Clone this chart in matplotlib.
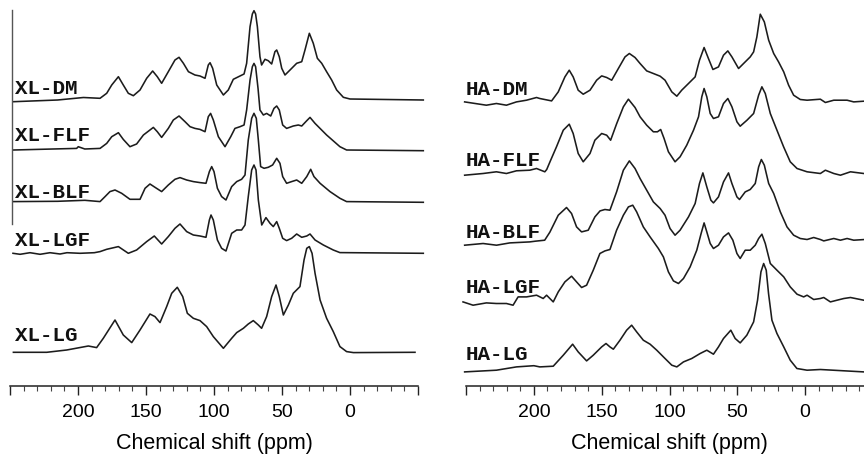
import matplotlib
matplotlib.use("Agg")
import matplotlib.pyplot as plt
from matplotlib.ticker import MultipleLocator, FuncFormatter

# ---------------- data (chemical shift in ppm, intensity in arbitrary units) ----------------
xl_dm_ppm = [247.5, 215, 196, 183.8, 178.9, 175.2, 170.3, 166.7, 163, 159.3, 154.4, 149.5, 145.1, 141.7,
             138.5, 133.6, 128.7, 125.7, 122.5, 118.8, 114, 110.3, 106.6, 104.2, 102.9, 101, 98, 93.1,
             89.5, 85.8, 80.9, 77.9, 76, 73.5, 71.8, 70.6, 69.4, 68.1, 66.2, 65, 62.5, 60.1, 57.6, 55.2,
             53.9, 52, 50.2, 47.8, 44.1, 39.2, 35.5, 33.1, 29.9, 27, 24, 20.8, 17.2, 13.5, 9.8, 4.9,
             0, -53.9]
xl_dm_int = [-1.7, 0, 2.5, 1.7, 6.7, 15, 23.3, 15, 6.7, 4.3, 10, 21.7, 29, 23.3,
             16.7, 28.3, 40, 42.7, 36.7, 28.3, 25, 24, 21.7, 35, 37.3, 31.7, 15, 5,
             10, 20.7, 24, 26, 36.7, 73.3, 86, 89.3, 86, 73.3, 43.3, 35, 40.7, 39.3, 36, 48.3,
             50, 43.3, 31.7, 25, 30, 36.7, 38.3, 50, 66.7, 56.7, 41.7, 36.7, 28.3, 20, 10, 2.7,
             1, 0]

xl_flf_ppm = [247.5, 201, 199.8, 195, 183.8, 178.9, 175.2, 170.3, 166.7, 161.8, 156.9, 151.9, 144.6,
              141.7, 138.5, 133.6, 129.9, 125.7, 121.3, 117.6, 114, 110.3, 106.6, 104.2, 102.5, 100.5,
              96.8, 91.9, 87.7, 84.6, 80.9, 77.9, 76, 73.5, 71.8, 70.6, 69.4, 67.6, 66.2, 63.7, 61.3,
              58.3, 55.9, 53.9, 52, 49.5, 46.6, 41.7, 38, 35.5, 31.8, 29.4, 25.7, 17.2, 7.4, 2.5,
              -53.9]
xl_flf_int = [0.7, 2.3, 4, 1.7, 2.3, 7.3, 14, 18, 11.3, 4, 6.7, 15.7, 23.3,
              19, 13.3, 22.3, 30.7, 34.7, 29, 24, 22.3, 21.3, 19, 34, 37.3, 30.7,
              14, 4, 14, 22.3, 24, 25.7, 40.7, 70.7, 84, 87.3, 84, 62, 40.7, 35.7, 37.3,
              34.7, 42.3, 44.7, 40.7, 25.7, 22.3, 24.7, 25.7, 24.7, 30, 33.3, 27.3, 15.7, 4, 0.7,
              0]

xl_blf_ppm = [247.5, 215, 195, 183.8, 180.1, 176.5, 172.8, 167.9, 161.8, 154.4, 150.7, 147.1, 143.4,
              138.5, 133.6, 128.7, 125, 120.1, 115.2, 110.3, 105.9, 103.4, 101.7, 100, 97.5, 94.4,
              91.2, 87, 83.3, 79.7, 77.2, 74.8, 72.3, 70.6, 68.9, 67.4, 65.7, 63.2, 60.1, 56.9, 53.9,
              51.5, 49.5, 46.6, 42.9, 39.2, 35.5, 31.8, 28.9, 26.5, 22, 14.7, 7.4, 2.5, -53.9]
xl_blf_int = [0.7, 1, 2, 0.7, 5.7, 10.7, 12.3, 9, 3, 3, 14, 18.3, 15,
              10.7, 17.3, 23, 24.7, 22.3, 20.7, 19.7, 19, 30.7, 35.7, 30.7, 14, 5.7,
              2.3, 15.7, 20.7, 23, 27.3, 62.3, 84, 89, 84, 62.3, 35.7, 34, 35, 37.3, 44,
              39, 25.7, 19, 20.7, 22.3, 19, 25.7, 33, 25.7, 19, 10.7, 4, 0.7, 0]

xl_lgf_ppm = [247.8, 242.6, 235.3, 227.9, 220.6, 213.2, 208.1, 198.5, 188, 183.8, 178.9, 170.3, 163,
              156.9, 149.5, 143.9, 138.5, 133.6, 128.7, 125, 120.1, 115.2, 110.3, 105.9, 103.4, 102.2,
              100.5, 97.5, 94.4, 91.2, 87, 83.3, 79.7, 77.2, 74.8, 72.3, 70.6, 69.1, 67.4, 64.9, 61.8,
              58.8, 56.4, 53.9, 52, 49.5, 46.6, 42.9, 39.2, 35.5, 31.8, 29.4, 25.7, 19.6, 12.3, 7.4,
              -53.9]
xl_lgf_int = [0, -1, 0.6, -1, 0.6, -0.7, 0.6, 0, 0.6, 1.7, 4, 6.7, 0,
              3.3, 11.7, 17.3, 9.3, 16.7, 25, 29.3, 21.7, 18.3, 17.3, 16, 33.3, 38.3,
              33.3, 13.3, 5, 2.3, 20, 23.3, 23.3, 28.3, 56.7, 83.3, 88.3, 83.3, 53.3, 28.3, 35.7,
              30, 26.7, 31.7, 25, 15, 12.7, 15, 19.3, 16, 17.3, 19.3, 13.3, 8.3, 3.3, 0.7,
              0]

xl_lg_ppm = [247.5, 223, 208.3, 192.4, 186.3, 181.4, 172.8, 166.7, 160.5, 154.4, 147.1, 143.4, 139.7,
             134.8, 131.1, 127, 123, 119.6, 115.2, 110.3, 105.4, 100.5, 93.1, 87, 83.3, 78.4, 74.8,
             71.1, 67.4, 65, 61.3, 57.6, 54.4, 52, 49, 45.3, 41.7, 36.8, 33.8, 31.8, 29.9, 27.9, 25.7,
             22, 17.2, 12.3, 7.4, 2.5, -2.5, -47.8]
xl_lg_int = [0, 0, 2.3, 6.3, 4.7, 14, 32.3, 17.3, 9.7, 22.3, 38.3, 35.7, 29.7,
             45.7, 59, 65, 55.7, 39, 34, 31.7, 25.7, 15.7, 4, 14, 19.7, 24, 28.3,
             31.7, 27.3, 24, 35.7, 55.7, 67.3, 55.7, 37.3, 47.3, 59, 65.7, 92.3, 104, 105.7, 99, 79,
             52.3, 34, 20.7, 5.7, 0.7, -0.3, 0]

ha_dm_ppm = [251, 235, 227.6, 220.2, 212.8, 205.4, 198, 195.6, 186.9, 182, 177.1, 173.9, 171, 167.3,
             163.6, 158.6, 153.7, 150, 146.3, 142.6, 137.7, 132.8, 129.6, 125.4, 121.7, 116.8, 111.9,
             106.9, 103.3, 98.3, 94.6, 91, 86, 81.1, 77.9, 74.5, 71.3, 68, 63.9, 60.2, 57, 54, 49.1,
             45.4, 40.5, 38, 35.6, 33.1, 30.1, 26.9, 23.2, 19.6, 15.8, 12.2, 8.5, 3.6, -1.4, -11.2,
             -14.9, -21.1, -30.9, -35.8, -43.2]
ha_dm_int = [-1.7, -5, -3.3, -5, -1.7, 0, 2.7, 1.7, -0.7, 8.3, 23.3, 30, 23.3, 10,
             6, 10, 20, 24.3, 22.7, 20, 31.7, 43.3, 46.7, 42.7, 36.7, 29.3, 26.7,
             24, 20, 8.3, 4, 10, 16.7, 23.3, 40, 52.7, 41.7, 30.7, 33.3, 45, 49.3, 43.3, 31.7,
             36.7, 43.3, 48.3, 63.3, 86, 78.3, 60, 46.7, 38.3, 28.3, 15, 5, 0.7, 0, 1,
             -2.3, 0, 0, -1.7, -1]

ha_flf_ppm = [251, 237.4, 227.6, 220.2, 212.8, 203, 198, 191.9, 190.5, 188, 183.3, 178.3, 173.9, 171,
              167.3, 163.6, 158.6, 155, 150, 146.3, 143.4, 138.9, 134, 130.3, 125.4, 121.7, 116.8,
              111.9, 108.9, 106.5, 104, 100.8, 95.9, 92.2, 87.3, 82.3, 78.6, 76.2, 74.5, 72.5, 70,
              67.6, 63.9, 60.2, 57, 54, 50.3, 47.9, 42.9, 38, 34.3, 31.9, 29.4, 25.7, 20.8, 15.9, 11,
              6, -1.4, -11.2, -14.9, -21.1, -26, -33.4, -43.2]
ha_flf_int = [-1.7, 0, 1.7, 0, 2.7, 3.3, 5, 1.7, 4, 12, 26.7, 43.3, 49.3, 40,
              20, 11.7, 20, 33.3, 40, 38.3, 33.3, 50, 66.7, 74.3, 66, 56.7, 48.3,
              41.7, 41.7, 44, 35, 21.7, 11.7, 16.7, 28.3, 43.3, 56.7, 76.7, 85, 76.7, 60,
              55, 56.7, 70, 75, 66.7, 51.7, 47.3, 53.3, 60, 78.3, 86.7, 80, 60, 43.3, 26.7, 11.7,
              5, 1.7, 0, 3.3, 0, -1.7, 1.7, 0]

ha_blf_ppm = [251, 237.4, 227.5, 217.7, 203, 199, 192, 188.2, 182, 175.9, 172.2, 168.5, 164.8, 159.9,
              155, 151.2, 147.6, 143.9, 139, 134, 129.6, 125.4, 121.7, 116.8, 111.9, 106.9, 103.3,
              99.6, 95.9, 92.2, 86, 81.1, 77.9, 75.4, 72.5, 69.5, 67.6, 63.9, 60.2, 56.5, 54, 50.3,
              48.4, 44.2, 40.5, 36.8, 34.3, 32.3, 30.1, 26.9, 23.2, 18.3, 13.4, 8.5, 3.6, -1.4, -6.3,
              -11.2, -13.7, -21.1, -26, -30.9, -35.8, -44]
ha_blf_int = [-5, -3.3, -5, -2.7, -1.7, -1, 0, 8, 25, 32.7, 26.7, 13.3, 8.3, 10,
              23.3, 29.3, 30.7, 30, 48.3, 70, 79.3, 71.7, 61.7, 50, 38.3, 31.7, 25,
              11.7, 5, 10, 23.3, 36.7, 56.7, 67.3, 53.3, 40, 37.3, 43.3, 58.3, 67.3, 56.7, 43.3,
              40.7, 48.3, 50.7, 56.7, 73.3, 80.7, 75, 56.7, 46.7, 28.3, 13.3, 5, 1.7, 0.7, 2.7,
              0.7, -0.7, 1.7, 0, 1.7, 0, 0.7]

ha_lgf_ppm = [252.2, 244.8, 235, 227.6, 220.2, 215.3, 211.6, 205.4, 198, 193.1, 190.6, 185.7, 182,
              177.1, 172.2, 168.5, 164.8, 161.1, 156.2, 151.3, 147.6, 143.9, 139, 134, 130.3, 127.1,
              124.2, 119.3, 114.3, 108.2, 104.5, 100.8, 97.1, 93.4, 89.7, 84.8, 79.9, 76.7, 74.5,
              72.5, 70, 67.6, 63.9, 60.2, 56.5, 53.3, 50.3, 47.9, 44.2, 40.5, 36.8, 34.3, 31.9, 29.4,
              25.7, 20.8, 15.8, 11, 6, 1.1, -1.4, -6.3, -11.2, -13.7, -18.6, -23.5, -28.5, -33.4,
              -43.2]
ha_lgf_int = [-1.7, -5, -2.7, -3.3, -3.3, -5, 3.3, 3.3, 5, 1.7, 5, -1.7, 8.3,
              18.3, 24, 18.3, 12.7, 15, 30, 46.7, 49.3, 50.7, 70, 85, 93.3, 95,
              88.3, 73.3, 63.3, 51.7, 43.3, 28.3, 19.3, 16.7, 21.7, 33.3, 50, 66.7, 77.3,
              68.3, 56.7, 51.7, 55, 63.3, 67.3, 60, 46.7, 41.7, 50, 50, 55, 61.7, 66, 56.7,
              36.7, 30, 23.3, 13.3, 6, 3.3, 5, 0.7, 1.7, 2.7, -1.7, 0, 1.7, 2.7,
              0]

ha_lg_ppm = [251, 227.6, 212.8, 200, 195.6, 185.7, 178.3, 171.4, 167.3, 161.1, 156.2, 150, 146.8,
             143.9, 141.4, 136.5, 131.6, 127.9, 124.2, 119.3, 114.3, 109.4, 103.3, 98.3, 94.6, 89.7,
             83.6, 77.4, 72.5, 67.6, 63.9, 60.2, 54.8, 51.6, 47.9, 43, 38, 35.1, 32.6, 30.6, 28.7,
             27, 24.5, 20.8, 15.8, 11, 6.1, -1.4, -11.2, -43.2]
ha_lg_int = [-1.7, 0, 3.3, 4.5, 3.3, 4, 15, 26, 18.3, 9.3, 15, 23.3, 26.7,
             23.3, 21, 30, 40, 45, 38.3, 30, 26, 20, 11.7, 5, 3.3, 8.3,
             11.7, 16.7, 20, 16, 23.3, 31.7, 40, 31.7, 27.3, 35, 48.3, 70, 98.3, 106.7, 100,
             76.7, 50, 36.7, 23.3, 10, 1.7, 0, 0.7, -1.7]

xl_names = ["XL-DM", "XL-FLF", "XL-BLF", "XL-LGF", "XL-LG"]
ha_names = ["HA-DM", "HA-FLF", "HA-BLF", "HA-LGF", "HA-LG"]
xl_series = [(xl_dm_ppm, xl_dm_int), (xl_flf_ppm, xl_flf_int), (xl_blf_ppm, xl_blf_int),
             (xl_lgf_ppm, xl_lgf_int), (xl_lg_ppm, xl_lg_int)]
ha_series = [(ha_dm_ppm, ha_dm_int), (ha_flf_ppm, ha_flf_int), (ha_blf_ppm, ha_blf_int),
             (ha_lgf_ppm, ha_lgf_int), (ha_lg_ppm, ha_lg_int)]

# ---------------- layout ----------------
xl_offsets = [285.5, 234.8, 183.2, 132.2, 33.2]
xl_label_y = [291.5, 244.3, 187.0, 139.3, 44.3]
ha_offsets = [285.3, 212.0, 145.3, 85.3, 15.3]
ha_label_y = [290.3, 219.6, 147.0, 92.6, 25.3]

W, H = 864, 454
fig = plt.figure(figsize=(W / 100, H / 100), dpi=100)
axis_py = 385.5
bottom = 1 - axis_py / H
height = axis_py / H
ax1 = fig.add_axes([10 / W, bottom, 408 / W, height])
ax2 = fig.add_axes([466 / W, bottom, 407 / W, height])

line_color = "#1c1c1c"
label_font = dict(family="Liberation Mono", fontweight="bold", fontsize=15, color="#111111")


def fmt(v, pos):
    if v > 225 or v < -25:
        return ""
    return f"{int(round(v))}"


for ax, series, names, offs, ly in [(ax1, xl_series, xl_names, xl_offsets, xl_label_y),
                                    (ax2, ha_series, ha_names, ha_offsets, ha_label_y)]:
    ax.set_xlim(250, -50)
    ax.set_ylim(0, axis_py)
    for (ppm, inten), off in zip(series, offs):
        ax.plot(ppm, [v + off for v in inten], color=line_color, lw=1.15, clip_on=False,
                solid_joinstyle="round")
    for name, y in zip(names, ly):
        ax.text(246.5 if ax is ax1 else 250.5, y, name, ha="left", va="baseline", **label_font)
    for s in ["top", "right", "left"]:
        ax.spines[s].set_visible(False)
    ax.spines["bottom"].set_linewidth(1.1)
    ax.spines["bottom"].set_color("#222222")
    ax.set_yticks([])
    ax.xaxis.set_major_locator(MultipleLocator(50))
    ax.xaxis.set_minor_locator(MultipleLocator(10))
    ax.xaxis.set_major_formatter(FuncFormatter(fmt))
    ax.tick_params(axis="x", which="major", direction="out", length=6.5, width=1.0,
                   color="#222222", pad=6.5, labelsize=14)
    ax.tick_params(axis="x", which="minor", direction="out", length=3.5, width=0.8,
                   color="#444444")
    for lab in ax.get_xticklabels():
        lab.set_family("Liberation Sans")
    ax.set_xlabel("Chemical shift (ppm)", fontsize=15.5, family="Liberation Sans", labelpad=9)
    ax.patch.set_alpha(0)

# partial vertical line in the left panel
ax1.plot([248.8, 248.8], [axis_py - 10, axis_py - 224], color="#555555", lw=1.0, clip_on=False)

fig.savefig("out.png", dpi=100)
